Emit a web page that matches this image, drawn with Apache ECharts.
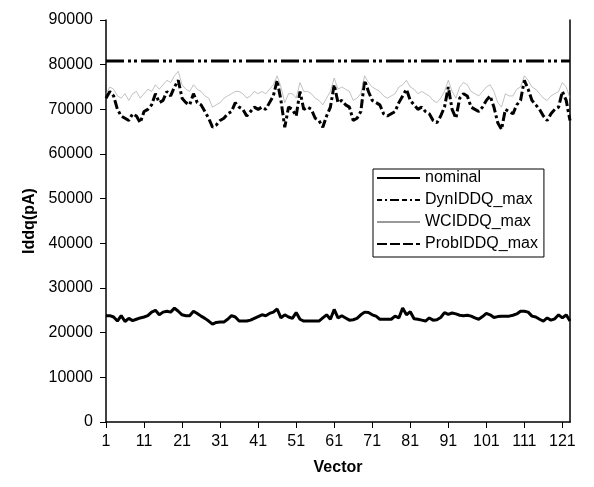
<!DOCTYPE html>
<html>
<head>
<meta charset="utf-8">
<script src="https://cdn.jsdelivr.net/npm/echarts@6/dist/echarts.min.js"></script>
<style>
  html, body { margin: 0; padding: 0; background: #fff; }
  #chart { width: 594px; height: 487px; }
</style>
</head>
<body>
<div id="chart"></div>
<script>
// Test vector index (1..123)
const vectors = Array.from({ length: 123 }, (_, i) => String(i + 1));

// Iddq per vector, in pA
const nominal = [
  23800, 23800, 23500, 22600, 23800, 22500, 23200, 22700, 23000, 23300,
  23500, 23800, 24600, 25000, 24000, 24600, 24800, 24600, 25500, 24800,
  24000, 23800, 23800, 24800, 24300, 23700, 23200, 22600, 21900, 22300,
  22400, 22400, 23000, 23800, 23500, 22600, 22600, 22600, 22800, 23200,
  23600, 24000, 23800, 24300, 24600, 25300, 23300, 24000, 23500, 23200,
  24500, 23000, 22600, 22600, 22600, 22600, 22600, 23300, 24000, 23000,
  25200, 23300, 23800, 23300, 22800, 22900, 23200, 24000, 24600, 24500,
  24000, 23700, 23000, 23000, 23000, 23000, 23700, 23300, 25500, 24000,
  24700, 23100, 23000, 22800, 22600, 23300, 22800, 22900, 23400, 24500,
  24100, 24400, 24200, 23900, 23800, 23900, 23700, 23300, 23000, 23600,
  24300, 24000, 23400, 23600, 23700, 23700, 23700, 23900, 24200, 24800,
  24800, 24600, 23700, 23500, 23000, 22600, 23300, 22800, 23100, 24000,
  23300, 24000, 22600
];

const dynIddqMax = [
  72500, 74000, 73000, 70000, 68500, 68000, 67500, 69000, 68500, 67000,
  69500, 70000, 71000, 73500, 71500, 72000, 74000, 73000, 75000, 76500,
  72500, 71500, 71000, 73500, 71500, 71000, 69500, 68000, 66000, 66500,
  67500, 68000, 69000, 69500, 71500, 70500, 70000, 68500, 69500, 70500,
  70000, 70500, 70000, 71500, 73000, 76500, 72000, 66000, 70500, 70000,
  68500, 74000, 70000, 70500, 70000, 68000, 67500, 66000, 68500, 70500,
  75500, 71500, 72000, 71000, 70500, 67500, 68000, 69500, 76500, 74000,
  72000, 71500, 71000, 69000, 68500, 69000, 69500, 71500, 73000, 74500,
  72000, 71000, 70000, 70500, 69500, 69000, 67500, 67000, 68500, 70500,
  75000, 70000, 68000, 72500, 73500, 73000, 70500, 70000, 69500, 70500,
  72000, 73000, 70500, 67000, 65500, 70000, 69500, 69000, 71000, 72000,
  76500, 74500, 72000, 71000, 70000, 68500, 67500, 69000, 70000, 70500,
  74000, 72000, 67500
];

const wcIddqMax = [
  73500, 75000, 74500, 73000, 72500, 73500, 72000, 73500, 74000, 72500,
  73500, 74500, 74000, 75500, 74500, 75500, 76500, 76000, 77500, 78500,
  75500, 74500, 74000, 75500, 74500, 74000, 73000, 72500, 70500, 71000,
  71500, 72500, 73000, 73500, 74000, 74000, 73500, 72500, 73000, 74000,
  73500, 74000, 73500, 74500, 75500, 77500, 75000, 71500, 73500, 73500,
  72500, 76000, 74000, 74000, 73500, 72500, 72000, 71000, 72500, 74000,
  77000, 74500, 75000, 74500, 74000, 72000, 72500, 73500, 77500, 76000,
  75000, 74500, 74000, 73000, 72500, 73000, 73500, 75000, 75500, 76500,
  75000, 74500, 73500, 74000, 73500, 73000, 72000, 71500, 72500, 74000,
  76500, 74000, 72500, 75000, 76000, 75500, 74000, 73500, 73000, 74000,
  75000, 75500, 74000, 71500, 70500, 73500, 73000, 73000, 74500, 75000,
  77500, 76500, 75000, 74500, 73500, 72500, 72000, 73000, 73500, 74000,
  76000, 75000, 72500
];

const probIddqMax = vectors.map(() => 80800);

const font = 'Liberation Sans, Arial, sans-serif';

const chart = echarts.init(document.getElementById('chart'), null, { renderer: 'canvas' });
chart.setOption({
  animation: false,
  backgroundColor: '#fff',
  grid: { left: 106, right: 24, top: 20, bottom: 65, containLabel: false },
  legend: {
    orient: 'vertical',
    left: 373,
    top: 169,
    itemWidth: 43,
    itemHeight: 14,
    itemGap: 4,
    padding: [0, 6, 4, 3],
    borderColor: '#000',
    borderWidth: 1,
    backgroundColor: '#fff',
    itemStyle: { opacity: 0 },
    textStyle: { fontFamily: font, fontSize: 16, color: '#000', lineHeight: 18 },
    data: [
      { name: 'nominal' },
      { name: 'DynIDDQ_max', lineStyle: { type: [5, 3, 2, 3, 9, 3] } },
      { name: 'WCIDDQ_max', lineStyle: { color: '#000', width: 0.8 } },
      { name: 'ProbIDDQ_max', lineStyle: { type: [10, 3] } }
    ]
  },
  xAxis: {
    type: 'category',
    data: vectors,
    boundaryGap: false,
    name: 'Vector',
    nameLocation: 'middle',
    nameGap: 38,
    nameTextStyle: { fontFamily: font, fontSize: 16, fontWeight: 'bold', color: '#000' },
    axisLine: { lineStyle: { color: '#000', width: 1.5 } },
    axisTick: { interval: 9, length: 6, lineStyle: { color: '#000' } },
    axisLabel: { interval: 9, margin: 12, fontFamily: font, fontSize: 16, color: '#000' },
    splitLine: { show: false }
  },
  yAxis: [
    {
      type: 'value',
      min: 0,
      max: 90000,
      interval: 10000,
      name: 'Iddq(pA)',
      nameLocation: 'middle',
      nameGap: 67,
      nameTextStyle: { fontFamily: font, fontSize: 16, fontWeight: 'bold', color: '#000' },
      axisLine: { show: true, lineStyle: { color: '#000', width: 1.5 } },
      axisTick: { show: true, length: 6, lineStyle: { color: '#000' } },
      axisLabel: {
        margin: 13, fontFamily: font, fontSize: 16, color: '#000',
        formatter: (v) => String(v)
      },
      splitLine: { show: false }
    },
    {
      type: 'value',
      min: 0,
      max: 90000,
      interval: 10000,
      position: 'right',
      axisLine: { show: true, lineStyle: { color: '#000', width: 1.5 } },
      axisTick: { show: false },
      axisLabel: { show: false },
      splitLine: { show: false }
    }
  ],
  series: [
    {
      name: 'nominal',
      type: 'line',
      data: nominal,
      symbol: 'none',
      lineStyle: { color: '#000', width: 3, type: 'solid' },
      itemStyle: { color: '#000' }
    },
    {
      name: 'DynIDDQ_max',
      type: 'line',
      data: dynIddqMax,
      symbol: 'none',
      lineStyle: { color: '#000', width: 3, type: [9, 3, 3, 3] },
      itemStyle: { color: '#000' }
    },
    {
      name: 'WCIDDQ_max',
      type: 'line',
      data: wcIddqMax,
      symbol: 'none',
      lineStyle: { color: '#999', width: 0.6, type: 'solid' },
      itemStyle: { color: '#000' }
    },
    {
      name: 'ProbIDDQ_max',
      type: 'line',
      data: probIddqMax,
      symbol: 'none',
      lineStyle: { color: '#000', width: 3, type: [18, 4, 3, 3, 3, 4] },
      itemStyle: { color: '#000' }
    }
  ]
});
</script>
</body>
</html>
